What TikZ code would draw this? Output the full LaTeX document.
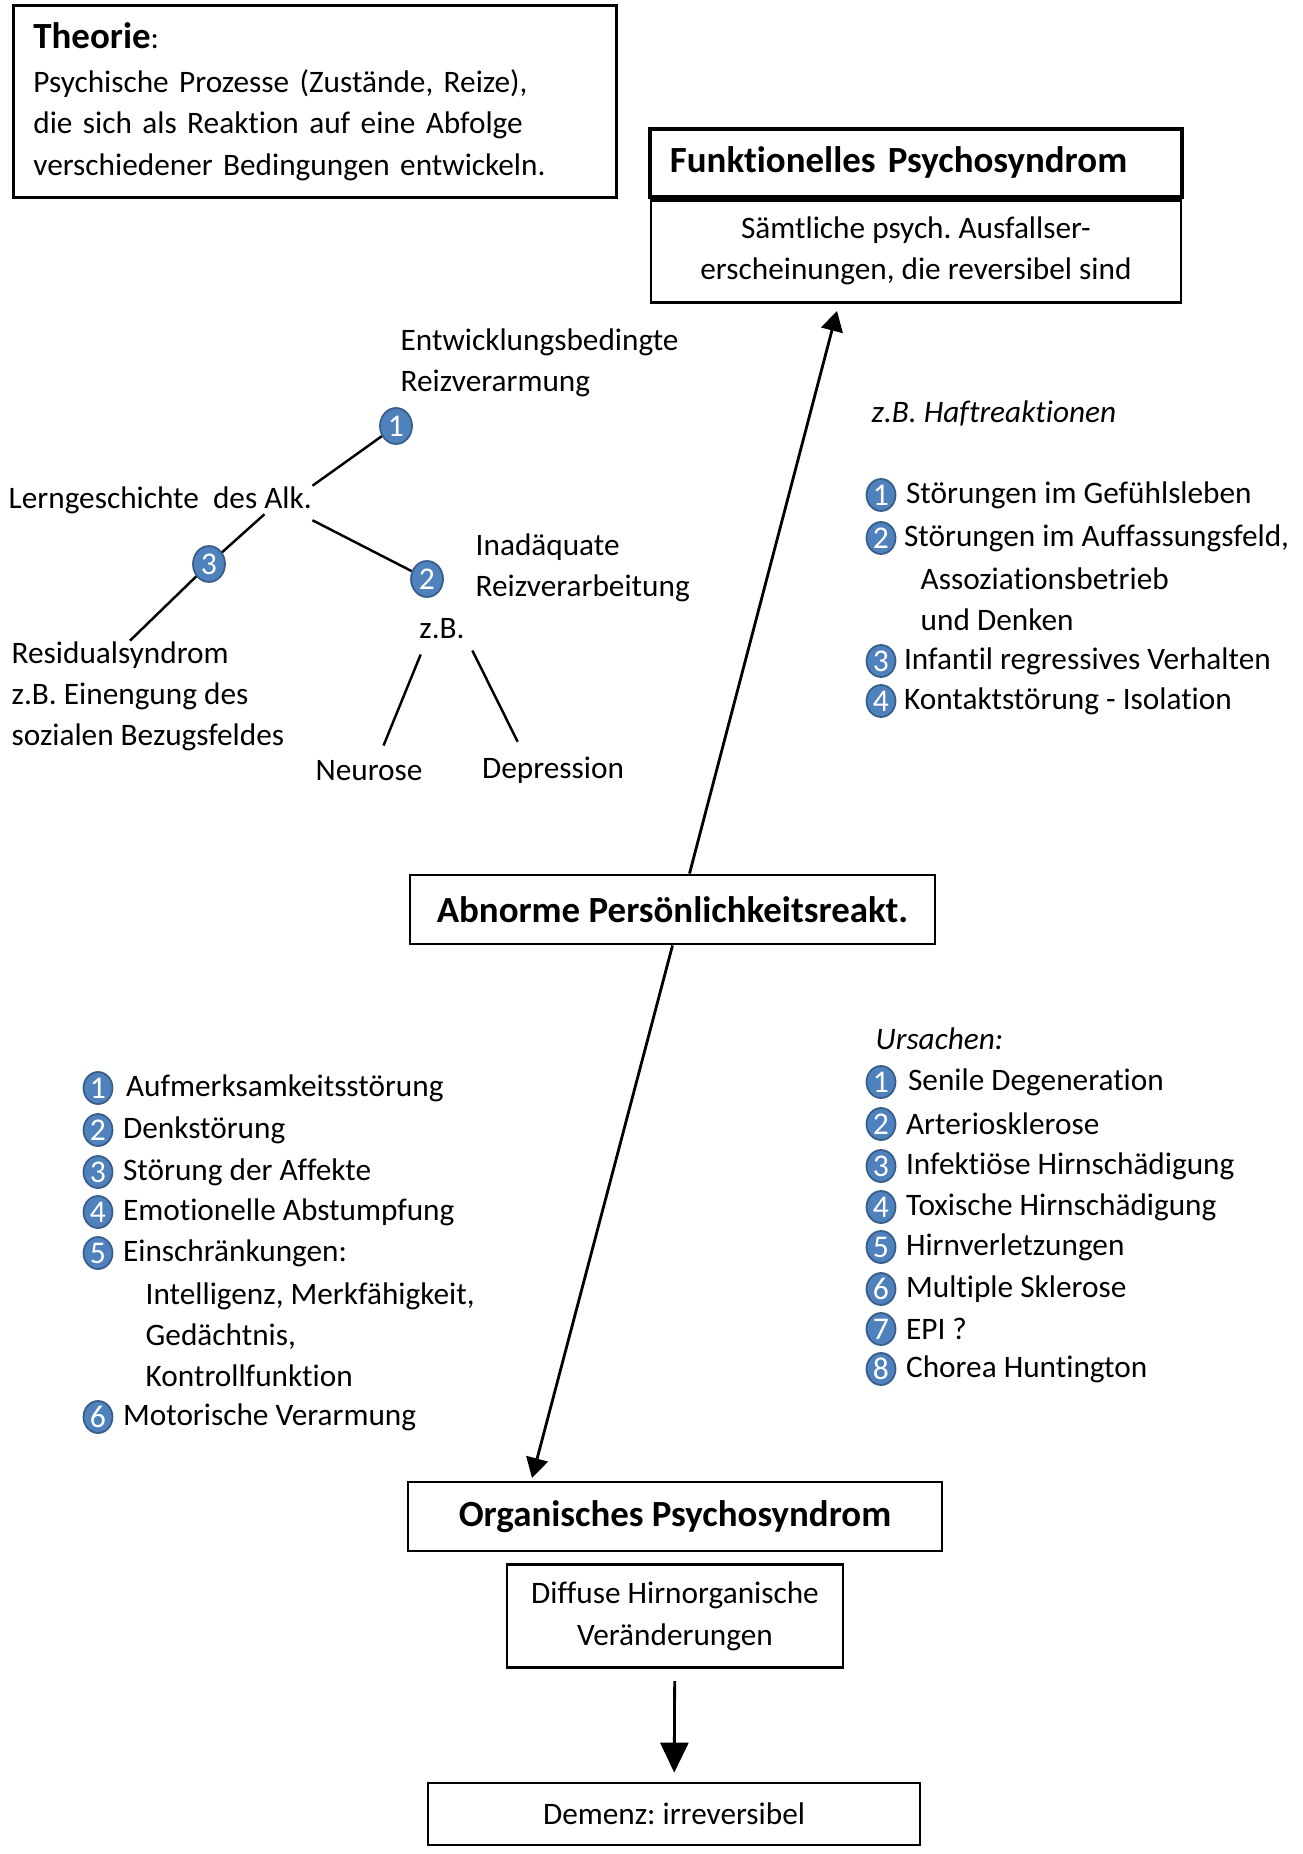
\documentclass[tikz,border=0pt]{standalone}
\usepackage{fontspec}
\setmainfont{Carlito}[RawFeature={-liga;-clig;-calt;-dlig;-rlig}]
\usepackage{tikz}
\usetikzlibrary{positioning}
\usetikzlibrary{arrows.meta}
\usetikzlibrary{shapes.geometric}
\definecolor{numblue}{RGB}{79, 129, 189}
\definecolor{numedge}{RGB}{56, 93, 138}
\newcommand{\txtsize}{\fontsize{8.9}{11.7}\selectfont}
\newcommand{\hdsize}{\fontsize{10.5}{11.7}\selectfont\bfseries}
\frenchspacing
\tikzset{
  box/.style={draw, line width=0.8pt, inner sep=0pt},
  item/.style={font=\txtsize, inner sep=0pt, anchor=west},
  numdot/.style={ellipse, fill=numblue, draw=numedge, line width=0.5pt, text=white, inner sep=0pt,
                 minimum width=0.29cm, minimum height=0.32cm, font=\fontsize{9}{9}\selectfont},
  treedot/.style={numdot, minimum width=0.32cm, minimum height=0.36cm},
  tree/.style={line width=0.7pt},
  arr/.style={line width=0.8pt, -{Triangle[length=0.2cm, width=0.22cm]}},
}

\begin{document}
\begin{tikzpicture}
            % Frame to fix the page size
            \useasboundingbox (0.00, 0.00) rectangle (13.03, -18.54);
            % Theorie
            \node[box, anchor=north west, text width=5.63cm, minimum height=1.92cm, inner xsep=0.2cm,
                  align=left, font=\txtsize] (theo) at (0.12, -0.04)
                 {{\hdsize Theorie}:\\[1pt]Psychische Prozesse (Zustände, Reize),\\die sich als Reaktion auf eine Abfolge\\verschiedener Bedingungen entwickeln.};
            % Main boxes
            \node[box, line width=1.1pt, anchor=north west, text width=4.92cm, minimum height=0.68cm, inner xsep=0.2cm,
                  align=left, font=\hdsize] (fps) at (6.48, -1.27) {Funktionelles Psychosyndrom};
            \node[box, anchor=north, minimum width=5.30cm, minimum height=1.02cm, align=center, font=\txtsize] (fpsd)
                 at (fps.south) {Sämtliche psych. Ausfallser-\\erscheinungen, die reversibel sind};
            \node[box, minimum width=5.25cm, minimum height=0.69cm, font=\hdsize] (apr) at ( 6.725, -9.095) {Abnorme Persönlichkeitsreakt.};
            \node[box, minimum width=5.34cm, minimum height=0.69cm, font=\hdsize] (ops) at ( 6.75, -15.165) {Organisches Psychosyndrom};
            \node[box, below=0.11cm of ops, minimum width=3.36cm, minimum height=1.03cm, align=center, font=\txtsize] (dhv)
                 {Diffuse Hirnorganische\\Veränderungen};
            \node[box, minimum width=4.92cm, minimum height=0.62cm, font=\txtsize] (dem) at ( 6.74, -18.14) {Demenz: irreversibel};
            % Arrows
            \coordinate (fpstip) at ( 8.37,  -3.11);
            \coordinate (opstip) at ( 5.32, -14.78);
            \draw[arr] ([xshift=0.17cm]apr.north) -- (fpstip);
            \draw[arr] (apr.south) -- (opstip);
            \draw[line width=0.8pt, -{Triangle[length=0.3cm, width=0.28cm]}, shorten <=0.12cm, shorten >=0.09cm] (dhv) -- (dem);
            % Lerngeschichte tree
            \node[item, align=left] (ent)  at ( 4.00, -3.63) {Entwicklungsbedingte\\Reizverarmung};
            \node[treedot]          (c1)   at ( 3.96, -4.26) {1};
            \node[item]             (lern) at ( 0.08, -5.00) {Lerngeschichte~ des Alk.};
            \node[treedot]          (c2)   at ( 4.27, -5.79) {2};
            \node[treedot]          (c3)   at ( 2.09, -5.64) {3};
            \node[item, align=left] (inad) at ( 4.75, -5.675) {Inadäquate\\Reizverarbeitung};
            \node[font=\txtsize, inner sep=1pt] (zb)  at ( 4.42, -6.29) {z.B.};
            \node[font=\txtsize, inner sep=1pt] (neu) at ( 3.69, -7.71) {Neurose};
            \node[font=\txtsize, inner sep=1pt] (dep) at ( 5.53, -7.70) {Depression};
            \node[item, align=left] (res)  at ( 0.11, -6.96) {Residualsyndrom\\z.B. Einengung des\\sozialen Bezugsfeldes};
            \draw[tree] (lern.north east) -- (c1);
            \draw[tree] ([yshift=-0.06cm]lern.south east) -- (c2);
            \draw[tree] ([xshift=-0.48cm]lern.south east) -- (c3) -- ([xshift=1.19cm]res.north west);
            \draw[tree, shorten <=0.12cm, shorten >=0.12cm] ([xshift=0.1cm]zb.south west) -- ([xshift=0.1cm]neu.north);
            \draw[tree, shorten <=0.08cm, shorten >=0.12cm] (zb.south east) -- ([xshift=-0.3cm]dep.north);
            % Haftreaktionen
            \node[item, font=\txtsize\itshape] (hft) at ( 8.71, -4.13) {z.B. Haftreaktionen};
            \node[numdot] (h1) at ( 8.81, -4.95) {1};
            \node[item, right=0.09cm of h1] (ht1) {Störungen im Gefühlsleben};
            \node[numdot] (h2) at ( 8.81, -5.38) {2};
            \node[item, right=0.07cm of h2] (ht2) {Störungen im Auffassungsfeld,};
            \node[item, align=left] (ht2b) at ( 9.20, -5.995) {Assoziationsbetrieb\\und Denken};
            \node[numdot] (h3) at ( 8.81, -6.61) {3};
            \node[item, right=0.07cm of h3] (ht3) {Infantil regressives Verhalten};
            \node[numdot] (h4) at ( 8.81, -7.01) {4};
            \node[item, right=0.07cm of h4] (ht4) {Kontaktstörung - Isolation};
            % Symptome (left)
            \node[numdot] (s1) at ( 0.98, -10.88) {1};
            \node[item, right=0.12cm of s1] (st1) {Aufmerksamkeitsstörung};
            \node[numdot] (s2) at ( 0.98, -11.30) {2};
            \node[item, right=0.09cm of s2] (st2) {Denkstörung};
            \node[numdot] (s3) at ( 0.98, -11.72) {3};
            \node[item, right=0.09cm of s3] (st3) {Störung der Affekte};
            \node[numdot] (s4) at ( 0.98, -12.12) {4};
            \node[item, right=0.09cm of s4] (st4) {Emotionelle Abstumpfung};
            \node[numdot] (s5) at ( 0.98, -12.53) {5};
            \node[item, right=0.09cm of s5] (st5) {Einschränkungen:};
            \node[item, align=left] (st5b) at ( 1.45, -13.35) {Intelligenz, Merkfähigkeit,\\Gedächtnis,\\Kontrollfunktion};
            \node[numdot] (s6) at ( 0.98, -14.17) {6};
            \node[item, right=0.09cm of s6] (st6) {Motorische Verarmung};
            % Ursachen (right)
            \node[item, font=\txtsize\itshape] (urs) at ( 8.75, -10.39) {Ursachen:};
            \node[numdot] (u1) at ( 8.81, -10.82) {1};
            \node[item, right=0.11cm of u1] (ut1) {Senile Degeneration};
            \node[numdot] (u2) at ( 8.81, -11.24) {2};
            \node[item, right=0.09cm of u2] (ut2) {Arteriosklerose};
            \node[numdot] (u3) at ( 8.81, -11.66) {3};
            \node[item, right=0.09cm of u3] (ut3) {Infektiöse Hirnschädigung};
            \node[numdot] (u4) at ( 8.81, -12.07) {4};
            \node[item, right=0.09cm of u4] (ut4) {Toxische Hirnschädigung};
            \node[numdot] (u5) at ( 8.81, -12.47) {5};
            \node[item, right=0.09cm of u5] (ut5) {Hirnverletzungen};
            \node[numdot] (u6) at ( 8.81, -12.89) {6};
            \node[item, right=0.09cm of u6] (ut6) {Multiple Sklerose};
            \node[numdot] (u7) at ( 8.81, -13.29) {7};
            \node[item, right=0.09cm of u7] (ut7) {EPI ?};
            \node[numdot] (u8) at ( 8.81, -13.69) {8};
            \node[item, right=0.09cm of u8] (ut8) {Chorea Huntington};
\end{tikzpicture}
\end{document}
